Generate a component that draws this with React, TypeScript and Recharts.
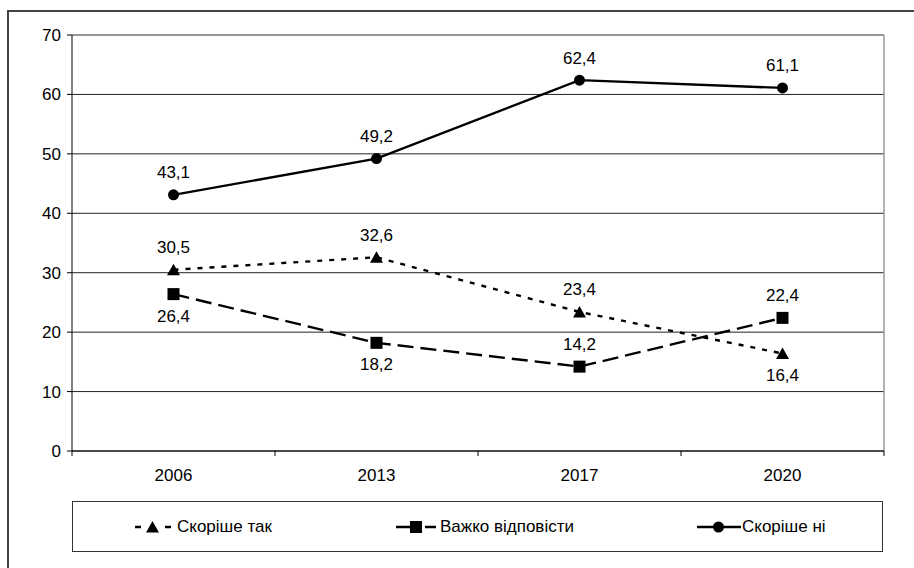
import React from 'react';
import { LineChart, Line, XAxis, YAxis, CartesianGrid, ReferenceLine, LabelList } from 'recharts';

const categories = ['2006', '2013', '2017', '2020'];
const skorisheTak = [30.5, 32.6, 23.4, 16.4];
const vazhkoVidpovisty = [26.4, 18.2, 14.2, 22.4];
const skorisheNi = [43.1, 49.2, 62.4, 61.1];
const seriesNames = ['Скоріше так', 'Важко відповісти', 'Скоріше ні'];
const yTicks = [0, 10, 20, 30, 40, 50, 60, 70];

// label placement (styling)
const takSides = ['above', 'above', 'above', 'below'];
const vazhkoSides = ['below', 'below', 'above', 'above'];
const niSides = ['above', 'above', 'above', 'above'];

const FONT = '"Liberation Sans", Arial, sans-serif';
const FS = 17;
const TXT = '#000';

const data = categories.map((c, i) => ({
  idx: i,
  year: c,
  tak: skorisheTak[i],
  vazhko: vazhkoVidpovisty[i],
  ni: skorisheNi[i],
}));

const xTicks: number[] = [];
for (let i = -0.5; i <= categories.length - 0.5; i += 0.5) xTicks.push(i);

const fmt = (v: number) => v.toFixed(1).replace('.', ',');

const makeLabel = (sides: string[]) => (props: any) => {
  const { x, y, value, index } = props;
  const off = sides[index] === 'above' ? -22 : 22;
  return (
    <text
      x={x}
      y={y + off}
      textAnchor="middle"
      dominantBaseline="central"
      fontFamily={FONT}
      fontSize={FS}
      fill={TXT}
    >
      {fmt(value)}
    </text>
  );
};

const Triangle = (props: any) => {
  const { cx, cy, index } = props;
  if (cx == null || cy == null) return <g key={`t${index}`} />;
  return <polygon key={`t${index}`} points={`${cx},${cy - 6} ${cx - 6.5},${cy + 5.5} ${cx + 6.5},${cy + 5.5}`} fill="#000" />;
};
const Square = (props: any) => {
  const { cx, cy, index } = props;
  if (cx == null || cy == null) return <g key={`s${index}`} />;
  return <rect key={`s${index}`} x={cx - 6} y={cy - 6} width={12} height={12} fill="#000" />;
};
const Circle = (props: any) => {
  const { cx, cy, index } = props;
  if (cx == null || cy == null) return <g key={`c${index}`} />;
  return <circle key={`c${index}`} cx={cx} cy={cy} r={5.5} fill="#000" />;
};

const XTick = (props: any) => {
  const { x, y, payload } = props;
  const v = payload.value as number;
  if (Math.abs(v - Math.round(v)) > 0.01) {
    return <line x1={x} x2={x} y1={y} y2={y + 5} stroke="#000" strokeWidth={1} />;
  }
  return (
    <text x={x} y={y + 18} dy="0.71em" textAnchor="middle" fontFamily={FONT} fontSize={FS} fill={TXT}>
      {categories[Math.round(v)]}
    </text>
  );
};

const legendText: React.CSSProperties = {
  position: 'absolute',
  top: 0,
  height: 52,
  lineHeight: '52px',
  fontFamily: FONT,
  fontSize: FS,
  color: TXT,
  whiteSpace: 'nowrap',
};

export default function App() {
  return (
    <div style={{ position: 'absolute', left: 0, top: 0, width: 914, height: 568, overflow: 'hidden', background: '#fff' }}>
      <div
        style={{
          position: 'absolute',
          left: 7,
          top: 10,
          width: 1000,
          height: 1000,
          borderTop: '2px solid #444',
          borderLeft: '2px solid #444',
        }}
      />
      <div style={{ position: 'absolute', left: 0, top: 0 }}>
        <LineChart width={914} height={568} data={data} margin={{ top: 35, right: 30, left: 22, bottom: 87 }}>
          <CartesianGrid horizontal vertical={false} stroke="#222" strokeWidth={1} />
          <ReferenceLine y={70} stroke="#999" strokeWidth={1.5} />
          <ReferenceLine x={categories.length - 0.5} stroke="#999" strokeWidth={1.5} />
          <XAxis
            dataKey="idx"
            type="number"
            domain={[-0.5, categories.length - 0.5]}
            ticks={xTicks}
            interval={0}
            tickLine={false}
            tickSize={0}
            tickMargin={0}
            height={30}
            axisLine={{ stroke: '#000', strokeWidth: 1 }}
            tick={<XTick />}
          />
          <YAxis
            domain={[0, 70]}
            ticks={yTicks}
            interval={0}
            width={50}
            tickSize={5}
            tickMargin={6}
            axisLine={{ stroke: '#000', strokeWidth: 1 }}
            tickLine={{ stroke: '#000', strokeWidth: 1 }}
            tick={{ fontFamily: FONT, fontSize: FS, fill: TXT }}
          />
          <Line
            dataKey="tak"
            name={seriesNames[0]}
            stroke="#000"
            strokeWidth={2.4}
            strokeDasharray="5 7"
            dot={Triangle}
            isAnimationActive={false}
          >
            <LabelList dataKey="tak" content={makeLabel(takSides)} />
          </Line>
          <Line
            dataKey="vazhko"
            name={seriesNames[1]}
            stroke="#000"
            strokeWidth={2.4}
            strokeDasharray="16 7"
            dot={Square}
            isAnimationActive={false}
          >
            <LabelList dataKey="vazhko" content={makeLabel(vazhkoSides)} />
          </Line>
          <Line
            dataKey="ni"
            name={seriesNames[2]}
            stroke="#000"
            strokeWidth={2.4}
            dot={Circle}
            isAnimationActive={false}
          >
            <LabelList dataKey="ni" content={makeLabel(niSides)} />
          </Line>
        </LineChart>
      </div>
      <div
        style={{
          position: 'absolute',
          left: 72,
          top: 501,
          width: 811,
          height: 51,
          border: '1.5px solid #333',
          boxSizing: 'border-box',
        }}
      />
      <svg style={{ position: 'absolute', left: 0, top: 0 }} width={914} height={568}>
        <g transform="translate(135,527)">
          <line x1={0} x2={6} y1={0} y2={0} stroke="#000" strokeWidth={2.5} />
          <polygon points="17.5,-6 11,5.5 24,5.5" fill="#000" />
          <line x1={30} x2={36} y1={0} y2={0} stroke="#000" strokeWidth={2.5} />
        </g>
        <g transform="translate(396,527)">
          <line x1={0} x2={15} y1={0} y2={0} stroke="#000" strokeWidth={2.5} />
          <rect x={14} y={-6} width={12} height={12} fill="#000" />
          <line x1={29} x2={40} y1={0} y2={0} stroke="#000" strokeWidth={2.5} />
        </g>
        <g transform="translate(697,527)">
          <line x1={0} x2={44} y1={0} y2={0} stroke="#000" strokeWidth={2.5} />
          <circle cx={21.5} cy={0} r={5.5} fill="#000" />
        </g>
      </svg>
      <div style={{ position: 'absolute', left: 0, top: 501, width: 914, height: 52 }}>
        <span style={{ ...legendText, left: 177 }}>{seriesNames[0]}</span>
        <span style={{ ...legendText, left: 440 }}>{seriesNames[1]}</span>
        <span style={{ ...legendText, left: 742 }}>{seriesNames[2]}</span>
      </div>
    </div>
  );
}
